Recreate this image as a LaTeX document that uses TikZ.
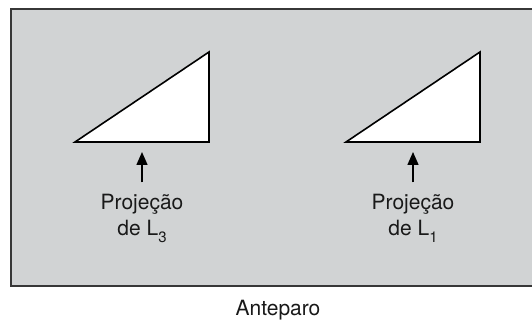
\documentclass[tikz,border=0pt]{standalone}
\usepackage{fontspec}
\setmainfont{TeX Gyre Heros}
\usepackage{xcolor}
\usepackage{tikz}
\usetikzlibrary{arrows.meta,positioning}
\definecolor{telacinza}{RGB}{209,211,212}
\definecolor{borda}{RGB}{55,55,55}
\newcommand{\subidx}[1]{\raisebox{-7pt}{\fontsize{15}{15}\selectfont #1}}
\tikzset{
  tela/.style={
    draw=borda,
    fill=telacinza,
    line width=2pt
  },
  sombra/.style={
    draw=black,
    fill=white,
    line width=1.6pt,
    line join=miter
  },
  rotulo/.style={
    font=\fontsize{21}{25}\selectfont,
    text=black!90,
    inner sep=0pt,
    anchor=base
  },
  seta/.style={-{Triangle[length=13pt,width=11pt]},line width=1.5pt,shorten <=12pt,shorten >=10pt}
}

\begin{document}
\begin{tikzpicture}[x=1pt,y=-1pt]
  \useasboundingbox (0,0) rectangle (532,320);
  \draw[tela] (11,9) rectangle (560,286);
  \draw[sombra] (75,142) -- (209,142) -- (209,52) -- cycle;
  \draw[sombra] (346,142) -- (480,142) -- (480,52) -- cycle;
  \coordinate (baseL3) at (142,142);
  \coordinate (baseL1) at (413,142);
  \node[rotulo] (projL3) at (142,210) {Projeção};
  \node[rotulo] (deL3) at (142,235) {de L\subidx{3}};
  \node[rotulo] (projL1) at (413,210) {Projeção};
  \node[rotulo] (deL1) at (413,235) {de L\subidx{1}};
  \node[rotulo] (anteparo) at (278,315) {Anteparo};
  \draw[seta] (projL3.north) -- (baseL3);
  \draw[seta] (projL1.north) -- (baseL1);
\end{tikzpicture}
\end{document}
